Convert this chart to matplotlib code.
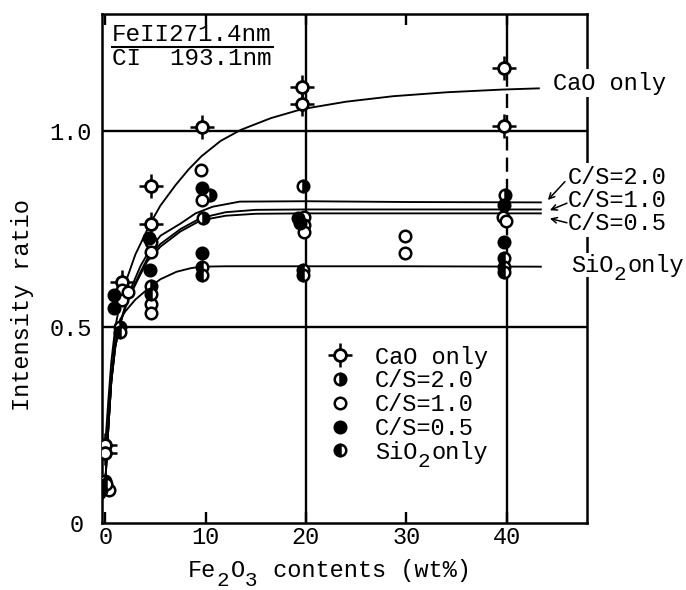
import matplotlib
matplotlib.use('Agg')
import matplotlib.pyplot as plt
from matplotlib.transforms import offset_copy, IdentityTransform

plt.rcParams['font.family'] = ['Liberation Mono', 'DejaVu Sans Mono']

# ---------------- data ----------------
cao_x = [0.0, 0.0, 1.7, 4.6, 4.6, 9.6, 19.6, 19.6, 39.7, 39.7]
cao_y = [0.199, 0.178, 0.616, 0.859, 0.764, 1.010, 1.112, 1.068, 1.162, 1.012]

cs20_x = [0.0, 1.5, 4.6, 9.7, 10.4, 19.7, 39.8]
cs20_y = [0.108, 0.500, 0.604, 0.777, 0.837, 0.859, 0.837]

cs10_x = [0.4, 1.7, 1.7, 2.3, 4.6, 4.6, 4.6, 4.6, 9.5, 9.6, 19.8, 19.8, 19.8,
          29.9, 29.9, 39.6, 39.9]
cs10_y = [0.085, 0.595, 0.568, 0.590, 0.718, 0.692, 0.558, 0.537, 0.900, 0.824,
          0.781, 0.760, 0.743, 0.731, 0.690, 0.781, 0.770]

cs05_x = [-0.4, -0.6, 0.9, 0.9, 4.4, 4.5, 9.6, 9.6, 19.2, 19.4, 39.7, 39.7]
cs05_y = [0.085, 0.076, 0.582, 0.548, 0.727, 0.645, 0.854, 0.690, 0.777, 0.765,
          0.811, 0.718]

sio2_x = [0.1, 1.5, 4.6, 9.6, 9.6, 19.7, 19.7, 39.7, 39.7, 39.7]
sio2_y = [0.100, 0.488, 0.585, 0.654, 0.633, 0.645, 0.633, 0.675, 0.654, 0.640]

# fitted curves
cao_cx = [0, 0.3, 0.6, 1.0, 1.5, 2.0, 3.0, 4.5, 5.5, 7.0, 8.3, 9.6, 11.5, 13.5,
          16.5, 19.6, 24, 28.7, 34, 39.6, 43.2]
cao_cy = [0.20, 0.31, 0.41, 0.50, 0.565, 0.612, 0.685, 0.765, 0.810, 0.862, 0.902,
          0.936, 0.975, 1.003, 1.033, 1.056, 1.075, 1.089, 1.099, 1.106, 1.109]

cs20_cx = [0, 0.3, 0.6, 1.0, 1.5, 2.0, 2.5, 3.5, 4.5, 5.5, 7.5, 9.0, 10.7, 13.4,
           20, 30, 43.4]
cs20_cy = [0.10, 0.24, 0.36, 0.45, 0.51, 0.555, 0.595, 0.655, 0.700, 0.733, 0.764,
           0.790, 0.807, 0.820, 0.821, 0.819, 0.818]

cs10_cx = [0, 0.3, 0.6, 1.0, 1.5, 2.0, 2.5, 3.5, 4.2, 5.5, 7.5, 9.5, 12, 15, 20,
           30, 43.4]
cs10_cy = [0.10, 0.24, 0.36, 0.45, 0.51, 0.55, 0.585, 0.640, 0.675, 0.712, 0.750,
           0.778, 0.793, 0.799, 0.800, 0.800, 0.800]

cs05_cx = [0, 0.3, 0.6, 1.0, 1.5, 2.0, 2.5, 3.5, 4.2, 5.5, 7.5, 9.5, 12, 15, 20,
           30, 43.4]
cs05_cy = [0.10, 0.24, 0.36, 0.45, 0.51, 0.55, 0.582, 0.634, 0.668, 0.705, 0.744,
           0.772, 0.784, 0.789, 0.790, 0.790, 0.790]

sio2_cx = [0, 0.3, 0.6, 1.0, 1.5, 2.0, 3.0, 4.5, 5.5, 7.1, 8.5, 9.5, 12, 20, 30,
           43.4]
sio2_cy = [0.10, 0.24, 0.36, 0.48, 0.52, 0.54, 0.570, 0.603, 0.622, 0.641, 0.650,
           0.654, 0.655, 0.655, 0.655, 0.654]

xticks = [0, 10, 20, 30, 40]
xticklabels = ['0', '10', '20', '30', '40']
yticks = [0.5, 1.0]
yticklabels = ['0.5', '1.0']

# the last label is completed with a lowered '2' and 'only' after drawing
legend_labels = ['CaO only', 'C/S=2.0', 'C/S=1.0', 'C/S=0.5', 'SiO']

# ---------------- figure ----------------
FS = 17
SUB = 15
DPI = 100
CELL_PT = 0.6 * FS                 # monospace advance, points
CELL_PX = CELL_PT * DPI / 72.0
DROP_PT = 5.8

fig = plt.figure(figsize=(6.86, 5.90), dpi=DPI)
ax = fig.add_axes([0.1483, 0.1136, 0.7074, 0.8635])
ax.set_xlim(-0.35, 48)
ax.set_ylim(0, 1.3)

for s in ax.spines.values():
    s.set_linewidth(1.8)

# grid lines
glw = 1.7
ax.axhline(0.5, color='k', lw=glw, zorder=1)
ax.axhline(1.0, color='k', lw=glw, zorder=1)
ax.axvline(20, color='k', lw=glw, zorder=1)
ax.axvline(40, ymin=0.0, ymax=0.48, color='k', lw=glw, zorder=1)
ax.axvline(40, ymin=0.48, ymax=0.90, color='k', lw=glw, zorder=1, dashes=(6, 3))
ax.axvline(40, ymin=0.90, ymax=1.0, color='k', lw=glw, zorder=1)

# curves
lw = 1.35
for cx, cy in [(cao_cx, cao_cy), (cs20_cx, cs20_cy), (cs10_cx, cs10_cy),
               (cs05_cx, cs05_cy), (sio2_cx, sio2_cy)]:
    ax.plot(cx, cy, color='k', lw=lw, zorder=2)

# markers
ms = 8.3
mew = 1.8
cao_plus, = ax.plot(cao_x, cao_y, ls='none', marker='+', ms=17, mew=1.8,
                    color='k', zorder=4)
cao_circ, = ax.plot(cao_x, cao_y, ls='none', marker='o', ms=8.5, mfc='white',
                    mec='k', mew=2.0, zorder=5)
h20, = ax.plot(cs20_x, cs20_y, ls='none', marker='o', ms=ms, mew=mew,
               fillstyle='right', mfc='k', mfcalt='white', mec='k', zorder=5)
h10, = ax.plot(cs10_x, cs10_y, ls='none', marker='o', ms=ms, mew=mew,
               mfc='white', mec='k', zorder=5)
h05, = ax.plot(cs05_x, cs05_y, ls='none', marker='o', ms=ms, mew=mew,
               mfc='k', mec='k', zorder=5)
hsi, = ax.plot(sio2_x, sio2_y, ls='none', marker='o', ms=ms, mew=mew,
               fillstyle='left', mfc='k', mfcalt='white', mec='k', zorder=5)

# ticks
ax.set_xticks(xticks)
ax.set_xticklabels(xticklabels)
ax.set_yticks(yticks)
ax.set_yticklabels(yticklabels)
ax.tick_params(axis='x', direction='in', length=8, width=1.7, top=True,
               labelsize=FS, pad=2)
ax.tick_params(axis='y', direction='in', length=0, labelsize=FS, pad=7)
ax.text(-0.051, -0.004, '0', transform=ax.transAxes, ha='center', va='center',
        fontsize=FS)


def chem_text(x, y, parts, transform, **kw):
    """Write a monospace string whose digits are lowered subscripts.
    parts: list of (text, is_subscript); each char takes one cell."""
    cell = 0
    for txt, sub in parts:
        tr = offset_copy(transform, fig=fig, x=cell * CELL_PT,
                         y=-DROP_PT if sub else 0, units='points')
        ax.text(x, y, txt, transform=tr, ha='left', va='baseline',
                fontsize=SUB if sub else FS, **kw)
        cell += len(txt)


# x label
chem_text(0.178, -0.107, [('Fe', False), ('2', True), ('O', False),
                          ('3', True), (' contents (wt%)', False)],
          ax.transAxes)

ax.text(-0.164, 0.428, 'Intensity ratio', transform=ax.transAxes, rotation=90,
        ha='center', va='center', fontsize=FS)

# ratio title
ax.text(0.0206, 0.9456, 'FeII271.4nm', transform=ax.transAxes, ha='left',
        va='baseline', fontsize=FS + 0.5)
ax.text(0.0206, 0.898, 'CI  193.1nm', transform=ax.transAxes, ha='left',
        va='baseline', fontsize=FS + 0.5)
ax.plot([0.0206, 0.353], [0.9338, 0.9338], transform=ax.transAxes, color='k',
        lw=1.5, clip_on=False)

# right-hand curve labels
wb = dict(facecolor='white', edgecolor='none', pad=1.5)
ax.text(44.6, 1.106, 'CaO only', ha='left', va='baseline', fontsize=FS,
        bbox=wb, clip_on=False, zorder=6)
ax.text(46.1, 0.866, 'C/S=2.0', ha='left', va='baseline', fontsize=FS,
        bbox=wb, clip_on=False, zorder=6)
ax.text(46.1, 0.807, 'C/S=1.0', ha='left', va='baseline', fontsize=FS,
        bbox=wb, clip_on=False, zorder=6)
ax.text(46.1, 0.747, 'C/S=0.5', ha='left', va='baseline', fontsize=FS,
        bbox=wb, clip_on=False, zorder=6)
chem_text(46.4, 0.641, [('SiO', False), ('2', True), ('only', False)],
          ax.transData, bbox=dict(facecolor='white', edgecolor='none', pad=0.5),
          clip_on=False, zorder=6)

ap = dict(arrowstyle='->', lw=1.1, color='k', shrinkA=0, shrinkB=0,
          mutation_scale=10)
ax.annotate('', xy=(44.1, 0.824), xytext=(45.8, 0.871), arrowprops=ap,
            annotation_clip=False, zorder=7)
ax.annotate('', xy=(44.3, 0.798), xytext=(46.0, 0.816), arrowprops=ap,
            annotation_clip=False, zorder=7)
ax.annotate('', xy=(44.3, 0.777), xytext=(46.0, 0.766), arrowprops=ap,
            annotation_clip=False, zorder=7)

# legend
leg = ax.legend([(cao_plus, cao_circ), h20, h10, h05, hsi], legend_labels,
                loc='upper left', bbox_to_anchor=(0.466, 0.348), frameon=False,
                fontsize=FS, borderpad=0, borderaxespad=0, handlelength=1.0,
                handletextpad=1.0, labelspacing=0.03)

# complete the legend's SiO2only label
fig.canvas.draw()
t = leg.get_texts()[4]
px, py = t.get_transform().transform(t.get_position())
fig.text(px + 3 * CELL_PX, py - DROP_PT * DPI / 72.0, '2',
         transform=IdentityTransform(), ha='left', va='baseline', fontsize=SUB)
fig.text(px + 4 * CELL_PX, py, 'only',
         transform=IdentityTransform(), ha='left', va='baseline', fontsize=FS)

fig.savefig('out.png', dpi=DPI)
